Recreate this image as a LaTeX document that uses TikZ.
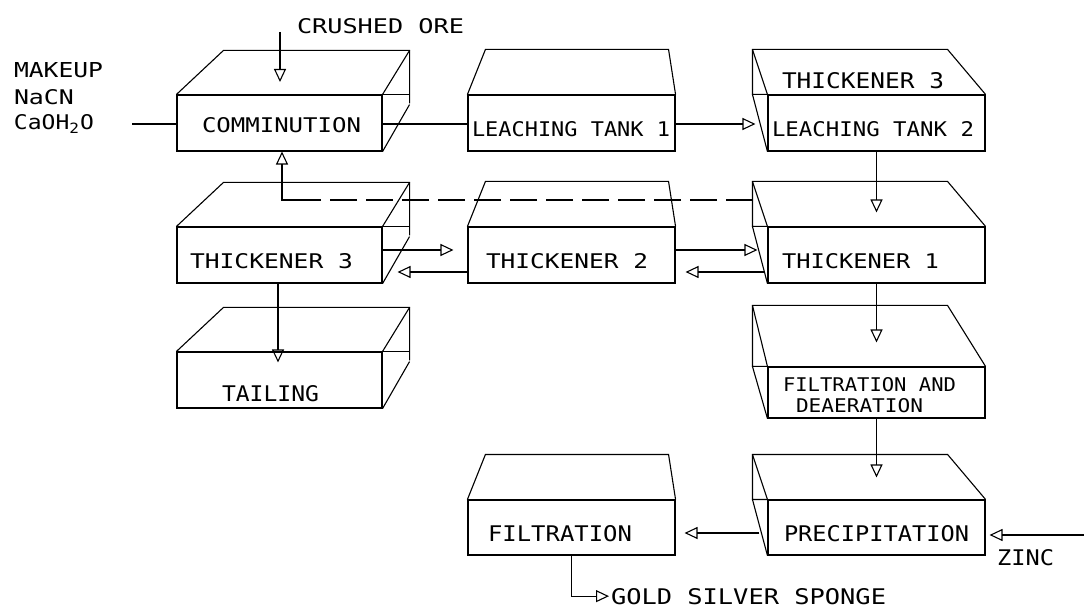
\documentclass[tikz,border=0pt]{standalone}
\usepackage{fontspec}
\usepackage{graphicx}
\usetikzlibrary{arrows.meta,calc}
\newfontfamily\cad{DejaVu Sans Mono}
\newcommand\tx[3]{\resizebox{#1pt}{#2pt}{\cad #3}}
\tikzset{
  ln/.style={line width=1.1pt, line join=miter},
  front/.style={draw, line width=1.1pt, inner sep=0pt, minimum width=#1},
  front/.default=207pt,
  arr/.style={ln, -{Triangle[open, length=13pt, width=12pt, line width=1.1pt]}},
  txt/.style={inner sep=0pt, outer sep=0pt, anchor=base west},
  dashline/.style={ln, dash pattern=on 27pt off 9pt}
}
\newcommand\boxA[1]{%
  \draw[ln] (#1.north west) -- ++(47,-44) -- ($(#1.north east)+(27,-44)$) -- ($(#1.north east)+(27,9)$);
  \draw[ln] (#1.north east) -- ++(27,0);
  \draw[ln] (#1.north east) -- ++(27,-44);
  \draw[ln] (#1.south east) -- ++(27,-47);}
\newcommand\boxB[1]{%
  \draw[ln] (#1.north west) -- ++(18,-45) -- ($(#1.north east)+(-7,-45)$) -- (#1.north east);}
\newcommand\boxC[2]{%
  \draw[ln] (#1.north west) -- ++(-15,0) -- ++(0,-#2) -- ($(#1.north east)+(-38,-#2)$) -- (#1.north east);
  \draw[ln] ($(#1.north west)+(-15,-#2)$) -- (#1.north west);
  \draw[ln] ($(#1.north west)+(-15,0)$) -- (#1.south west);}
\begin{document}
\begin{tikzpicture}[x=1pt,y=-1pt]
\useasboundingbox[fill=white] (0,0) rectangle (1084,609);

% front faces
\node[front=205pt, minimum height=56pt] (comm) at (279.5,123) {};
\node[front=207pt, minimum height=56pt] (lt1) at (571.5,123) {};
\node[front=217pt, minimum height=56pt] (lt2) at (876.5,123) {};
\node[front=205pt, minimum height=56pt] (t3l) at (279.5,255) {};
\node[front=207pt, minimum height=56pt] (t2) at (571.5,255) {};
\node[front=217pt, minimum height=56pt] (t1) at (876.5,255) {};
\node[front=205pt, minimum height=56pt] (tail) at (279.5,380) {};
\node[front=217pt, minimum height=51pt] (fad) at (876.5,392.5) {};
\node[front=207pt, minimum height=55pt] (filt) at (571.5,527.5) {};
\node[front=217pt, minimum height=55pt] (prec) at (876.5,527.5) {};

% 3D edges
\boxA{comm}
\boxA{t3l}
\boxA{tail}
\boxB{lt1}
\boxB{t2}
\boxB{filt}
\boxC{lt2}{45}
\boxC{t1}{45}
\boxC{fad}{61}
\boxC{prec}{45}

% texts
\node[txt] (ore) at (297,34) {\tx{167}{15}{CRUSHED ORE}};
\node[txt] (mk1) at (14,78) {\tx{89}{15}{MAKEUP}};
\node[txt] (mk2) at (14,105) {\tx{60}{15}{NaCN}};
\node[txt] (mk3) at (14,130) {\tx{80}{15}{CaOH\textsubscript{2}O}};
\node[txt] (tcomm) at (202,133) {\tx{159}{15}{COMMINUTION}};
\node[txt] (tlt1) at (472,137) {\tx{198}{15}{LEACHING TANK 1}};
\node[txt] (tt3r) at (782,89) {\tx{162}{16}{THICKENER 3}};
\node[txt] (tlt2) at (772,137) {\tx{202}{15}{LEACHING TANK 2}};
\node[txt] (tt3l) at (190,269) {\tx{163}{15}{THICKENER 3}};
\node[txt] (ttail) at (222,401) {\tx{97}{16}{TAILING}};
\node[txt] (tt2) at (486,269) {\tx{162}{15}{THICKENER 2}};
\node[txt] (tt1) at (782,269) {\tx{157}{15}{THICKENER 1}};
\node[txt] (tfad1) at (783,391) {\tx{173}{14}{FILTRATION AND}};
\node[txt] (tfad2) at (796,412) {\tx{127}{14}{DEAERATION}};
\node[txt] (tfilt) at (488,541) {\tx{144}{16}{FILTRATION}};
\node[txt] (tprec) at (784,541) {\tx{185}{16}{PRECIPITATION}};
\node[txt] (zinc) at (997,565) {\tx{57}{16}{ZINC}};
\node[txt] (gold) at (611,604) {\tx{275}{16}{GOLD SILVER SPONGE}};

% free ends
\coordinate (oreA) at (280,32);
\coordinate (oreB) at (280,82);
\coordinate (mkA) at (132,124);
\coordinate (zinA) at (1084,535);
\coordinate (dA) at (753,200);
\coordinate (dB) at (302,200);
\coordinate (dC) at (282,200);

% connectors
\draw[arr] (oreA) -- (oreB);
\draw[ln] (mkA) -- ([yshift=-1pt]comm.west);
\draw[ln] ([yshift=-1pt]comm.east) -- ([yshift=-1pt]lt1.west);
\draw[arr] ([yshift=-1pt]lt1.east) -- ([xshift=-12pt,yshift=-1pt]lt2.west);
\draw[arr] (lt2.south) -- ([yshift=14pt]t1.north);
\draw[arr] ([yshift=5pt]t3l.east) -- ([xshift=-14pt,yshift=5pt]t2.west);
\draw[arr] ([yshift=-17pt]t2.west) -- ([xshift=15pt,yshift=-17pt]t3l.east);
\draw[arr] ([yshift=5pt]t2.east) -- ([xshift=-10pt,yshift=5pt]t1.west);
\draw[arr] ([xshift=-3pt,yshift=-17pt]t1.west) -- ([xshift=10pt,yshift=-17pt]t2.east);
\draw[arr] ([xshift=-1.5pt]t3l.south) -- ([xshift=-1.5pt,yshift=-11pt]tail.north);
\draw[arr] (t1.south) -- ([yshift=24pt]fad.north);
\draw[arr] (fad.south) -- ([yshift=22pt]prec.north);
\draw[arr] ([xshift=-8pt,yshift=-5.5pt]prec.west) -- ([xshift=9pt,yshift=-5.5pt]filt.east);
\draw[arr] (zinA) -- ([xshift=4pt,yshift=-7.5pt]prec.east);
\draw[arr] (filt.south) |- ([xshift=-2pt]gold.west);
\draw[dashline] (dA) -- (dB);
\draw[arr] (dB) -- (dC) -- (dC |- comm.south);
\end{tikzpicture}
\end{document}
